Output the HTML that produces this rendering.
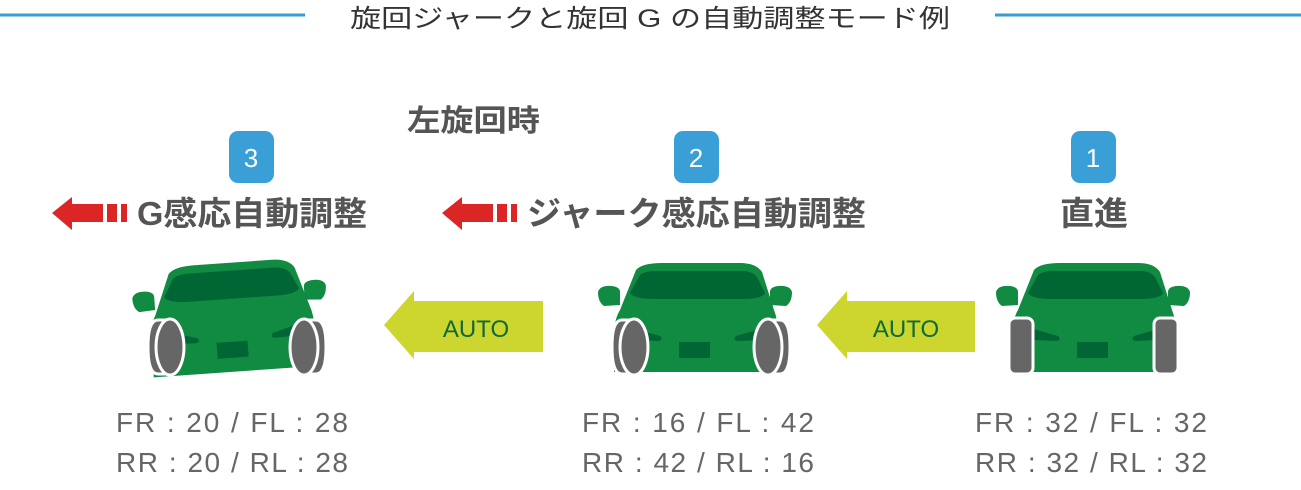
<!DOCTYPE html>
<html><head><meta charset="utf-8"><style>
body{margin:0;background:#fff;width:1301px;height:485px;overflow:hidden}
text{font-family:"Liberation Sans","Noto Sans CJK JP",sans-serif}
</style></head><body>
<svg width="1301" height="485" viewBox="0 0 1301 485" xmlns="http://www.w3.org/2000/svg">
<defs>
<g id="body">
<path d="M6,42 Q8,35 20,36 Q28,37 28,42 L28,55 L12,56 Q6,52 6,42Z" fill="#118a42"/>
<path d="M200,42 Q198,35 186,36 Q178,37 178,42 L178,55 L194,56 Q200,52 200,42Z" fill="#118a42"/>
<path d="M44,20 Q50,13 70,13 L148,13 Q164,13 170,22 L182,60 Q186,70 186,85 L186,122 L22,122 L22,85 Q22,70 28,60 Z" fill="#118a42"/>
<path d="M38,43 L48,25 Q53,21 64,21 L150,21 Q160,21 165,27 L173,43 Q170,49 150,49 L62,49 Q42,49 38,43Z" fill="#006634"/>
<path d="M40,78 L68,86 Q72,90 66,91 L44,90Z" fill="#006634"/>
<path d="M172,78 L144,86 Q140,90 146,91 L168,90Z" fill="#006634"/>
<rect x="87" y="92" width="31" height="16" fill="#006634"/>
</g>
</defs>
<line x1="0" y1="15" x2="305" y2="15" stroke="#3a9ad6" stroke-width="3"/>
<line x1="995" y1="15" x2="1301" y2="15" stroke="#3a9ad6" stroke-width="3"/>
<text x="350" y="27" font-size="25" fill="#333" textLength="600" lengthAdjust="spacingAndGlyphs">旋回ジャークと旋回 G の自動調整モード例</text>
<text x="407" y="131" font-size="30" font-weight="bold" fill="#555" textLength="133" lengthAdjust="spacingAndGlyphs">左旋回時</text>
<g font-size="26" fill="#fff" text-anchor="middle">
<rect x="229" y="131" width="45" height="52" rx="9" fill="#3a9fd6"/><text x="251" y="167">3</text>
<rect x="674" y="131" width="45" height="52" rx="9" fill="#3a9fd6"/><text x="696" y="167">2</text>
<rect x="1071" y="131" width="45" height="52" rx="9" fill="#3a9fd6"/><text x="1093" y="167">1</text>
</g>
<g fill="#555" font-size="33" font-weight="bold">
<text x="137" y="225" textLength="230" lengthAdjust="spacingAndGlyphs">G感応自動調整</text>
<text x="527" y="225" textLength="339" lengthAdjust="spacingAndGlyphs">ジャーク感応自動調整</text>
<text x="1060" y="225" textLength="68" lengthAdjust="spacingAndGlyphs">直進</text>
</g>
<g fill="#dc2626">
<polygon points="52,213 72,197 72,204 103,204 103,222 72,222 72,230"/>
<rect x="107" y="204" width="10" height="18"/><rect x="121" y="204" width="6" height="18"/>
<polygon points="442,213 462,197 462,204 493,204 493,222 462,222 462,230"/>
<rect x="497" y="204" width="10" height="18"/><rect x="511" y="204" width="6" height="18"/>
</g>
<g fill="#cdd62e">
<polygon points="384,325 414,291 414,301 543,301 543,352 414,352 414,359"/>
<polygon points="817,325 847,291 847,301 975,301 975,352 847,352 847,359"/>
</g>
<g fill="#0e6a36" font-size="24" text-anchor="middle">
<text x="476" y="337">AUTO</text><text x="906" y="337">AUTO</text>
</g>
<g transform="translate(990,250)">
<use href="#body"/>
<rect x="19" y="68" width="24" height="56" rx="6" fill="#666" stroke="#fff" stroke-width="3"/>
<rect x="164" y="68" width="24" height="56" rx="6" fill="#666" stroke="#fff" stroke-width="3"/>
</g>
<g transform="translate(592,250)">
<use href="#body"/>
<path d="M40,70 L30,70 Q20,70 20,97 Q20,124 30,124 L40,124Z" fill="#666" stroke="#fff" stroke-width="3"/>
<ellipse cx="42" cy="97" rx="14" ry="28" fill="#666" stroke="#fff" stroke-width="3"/>
<path d="M178,70 L188,70 Q198,70 198,97 Q198,124 188,124 L178,124Z" fill="#666" stroke="#fff" stroke-width="3"/>
<ellipse cx="176" cy="97" rx="14" ry="28" fill="#666" stroke="#fff" stroke-width="3"/>
</g>
<g transform="translate(128,250) rotate(-4 100 70)">
<use href="#body"/>
</g>
<g transform="translate(128,250)">
<path d="M40,70 L30,70 Q20,70 20,97 Q20,124 30,124 L40,124Z" fill="#666" stroke="#fff" stroke-width="3"/>
<ellipse cx="42" cy="97" rx="14" ry="28" fill="#666" stroke="#fff" stroke-width="3"/>
<path d="M178,70 L188,70 Q198,70 198,97 Q198,124 188,124 L178,124Z" fill="#666" stroke="#fff" stroke-width="3"/>
<ellipse cx="176" cy="97" rx="14" ry="28" fill="#666" stroke="#fff" stroke-width="3"/>
</g>
<g fill="#666" font-size="28" xml:space="preserve">
<text x="116" y="432" textLength="232">FR : 20  /  FL : 28</text>
<text x="116" y="472" textLength="232">RR : 20  /  RL : 28</text>
<text x="582" y="432" textLength="232">FR : 16  /  FL : 42</text>
<text x="582" y="472" textLength="232">RR : 42  /  RL : 16</text>
<text x="975" y="432" textLength="232">FR : 32  /  FL : 32</text>
<text x="975" y="472" textLength="232">RR : 32  /  RL : 32</text>
</g>
</svg>
</body></html>
